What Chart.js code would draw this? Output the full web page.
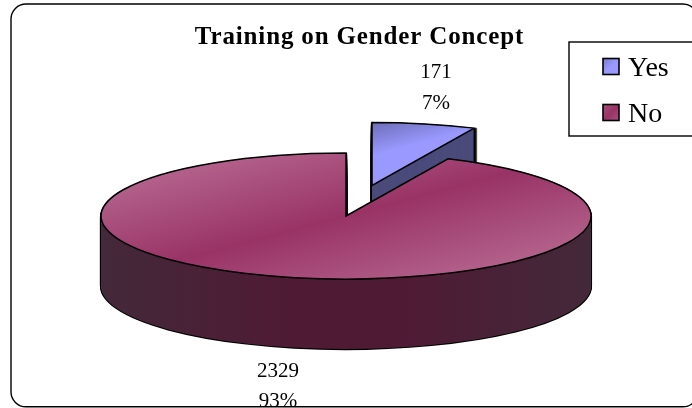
<!DOCTYPE html>
<html>
<head>
<meta charset="utf-8">
<style>
html, body { margin: 0; padding: 0; background: #fff; }
canvas { display: block; }
</style>
<script src="https://cdn.jsdelivr.net/npm/chart.js@4"></script>
</head>
<body>
<canvas id="pieChart" width="692" height="408"></canvas>
<script>
const categories = ['Yes', 'No'];
const seriesValues = [171, 2329];
const percentLabels = ['7%', '93%'];
const titleText = 'Training on Gender Concept';

const legendColors = ['#9999ff', '#993366'];

const squash = 0.257;
const depth = 70;
const explode = [122, 0];

// gradient along the diagonal of the flat pie, before squashing
function topFill(ctx, arc, i) {
    const ux = 0.72, uy = 0.695;
    const from = i === 0 ? -240 : -270;
    const to = i === 0 ? -80 : 270;
    const g = ctx.createLinearGradient(arc.x + ux * from, arc.y + uy * from, arc.x + ux * to, arc.y + uy * to);
    if (i === 0) {
        g.addColorStop(0, '#4b4b80');
        g.addColorStop(1, '#9999ff');
    } else {
        g.addColorStop(0, '#b5668f');
        g.addColorStop(0.5, '#993366');
        g.addColorStop(1, '#b5668f');
    }
    return g;
}

function sideFill(ctx, arc, i) {
    if (i === 0) return '#4b4b7c';
    const g = ctx.createLinearGradient(arc.x - 245, arc.y, arc.x + 245, arc.y);
    g.addColorStop(0, '#43293a');
    g.addColorStop(0.4, '#4f1a33');
    g.addColorStop(0.6, '#4f1a33');
    g.addColorStop(1, '#43293a');
    return g;
}

function slicePath(ctx, arc) {
    const a = arc.getProps(['x', 'y', 'startAngle', 'endAngle', 'outerRadius']);
    ctx.beginPath();
    ctx.moveTo(a.x, a.y);
    ctx.arc(a.x, a.y, a.outerRadius, a.startAngle, a.endAngle);
    ctx.closePath();
}

function strokeEven(ctx, width) {
    ctx.save();
    ctx.setTransform(1, 0, 0, 1, 0, 0);
    ctx.strokeStyle = '#000';
    ctx.lineWidth = width;
    ctx.stroke();
    ctx.restore();
}

// squashes the flat pie into an ellipse and stacks copies of it for the side wall
const tiltedPie = {
    id: 'tiltedPie',
    beforeDatasetDraw(chart) {
        const ctx = chart.ctx;
        const arcs = chart.getDatasetMeta(0).data;
        arcs.forEach((arc, i) => {
            const mid = (arc.startAngle + arc.endAngle) / 2;
            const base = arc.options;
            ctx.save();
            ctx.translate(arc.x, arc.y);
            ctx.scale(1, squash);
            ctx.translate(-arc.x, -arc.y);
            ctx.translate(Math.cos(mid) * explode[i], Math.sin(mid) * explode[i]);

            // outline of the whole extruded shape first, the fills cover its inner half
            for (let d = depth; d > 0; d -= 1) {
                ctx.save();
                ctx.translate(0, d / squash);
                slicePath(ctx, arc);
                strokeEven(ctx, 2.2);
                ctx.restore();
            }

            const side = sideFill(ctx, arc, i);
            arc.options = Object.create(base, {
                backgroundColor: { value: side },
                borderColor: { value: side },
                borderWidth: { value: 0 }
            });
            for (let d = depth; d > 0; d -= 0.5) {
                ctx.save();
                ctx.translate(0, d / squash);
                arc.draw(ctx);
                ctx.restore();
            }

            arc.options = Object.create(base, {
                backgroundColor: { value: topFill(ctx, arc, i) },
                borderColor: { value: '#000' },
                borderWidth: { value: 0 }
            });
            arc.draw(ctx);
            arc.options = base;

            slicePath(ctx, arc);
            strokeEven(ctx, 1.5);
            ctx.restore();
        });
        return false;
    },
    afterDraw(chart) {
        const ctx = chart.ctx;
        ctx.save();
        // outer frame, its right side runs off the picture
        ctx.strokeStyle = '#000';
        ctx.lineWidth = 1.4;
        ctx.beginPath();
        ctx.roundRect(11, 4, 687, 402.8, 15);
        ctx.stroke();

        ctx.fillStyle = '#000';
        ctx.textAlign = 'center';
        ctx.textBaseline = 'alphabetic';
        ctx.font = 'bold 25px "Liberation Serif"';
        ctx.letterSpacing = '0.85px';
        ctx.fillText(titleText, 359.5, 44);
        ctx.letterSpacing = '0px';

        // data labels
        ctx.font = '21px "Liberation Serif"';
        ctx.fillText(String(seriesValues[0]), 436, 78);
        ctx.fillText(percentLabels[0], 436, 109);
        ctx.fillText(String(seriesValues[1]), 278, 377);
        ctx.fillText(percentLabels[1], 278, 407);

        // legend
        ctx.lineWidth = 1.4;
        ctx.strokeRect(569, 42, 130, 94);
        ctx.textAlign = 'left';
        ctx.font = '28px "Liberation Serif"';
        categories.forEach((name, i) => {
            const y = 58.5 + i * 46;
            const g = ctx.createLinearGradient(603, y, 619, y + 16);
            g.addColorStop(0, i === 0 ? '#7a7acc' : '#a8507c');
            g.addColorStop(0.5, legendColors[i]);
            g.addColorStop(1, i === 0 ? '#9999ff' : '#a8507c');
            ctx.fillStyle = g;
            ctx.fillRect(603, y, 16, 16);
            ctx.strokeStyle = '#000';
            ctx.lineWidth = 1.6;
            ctx.strokeRect(603, y, 16, 16);
            ctx.fillStyle = '#000';
            ctx.fillText(name, 628, 75.5 + i * 46);
        });
        ctx.restore();
    }
};

new Chart(document.getElementById('pieChart'), {
    type: 'pie',
    data: {
        labels: categories,
        datasets: [{
            data: seriesValues,
            backgroundColor: legendColors,
            borderWidth: 0,
            clip: false
        }]
    },
    options: {
        responsive: false,
        animation: false,
        radius: 245,
        layout: { padding: { top: 24 } },
        plugins: {
            legend: { display: false },
            title: { display: false },
            tooltip: { enabled: false }
        }
    },
    plugins: [tiltedPie]
});
</script>
</body>
</html>
